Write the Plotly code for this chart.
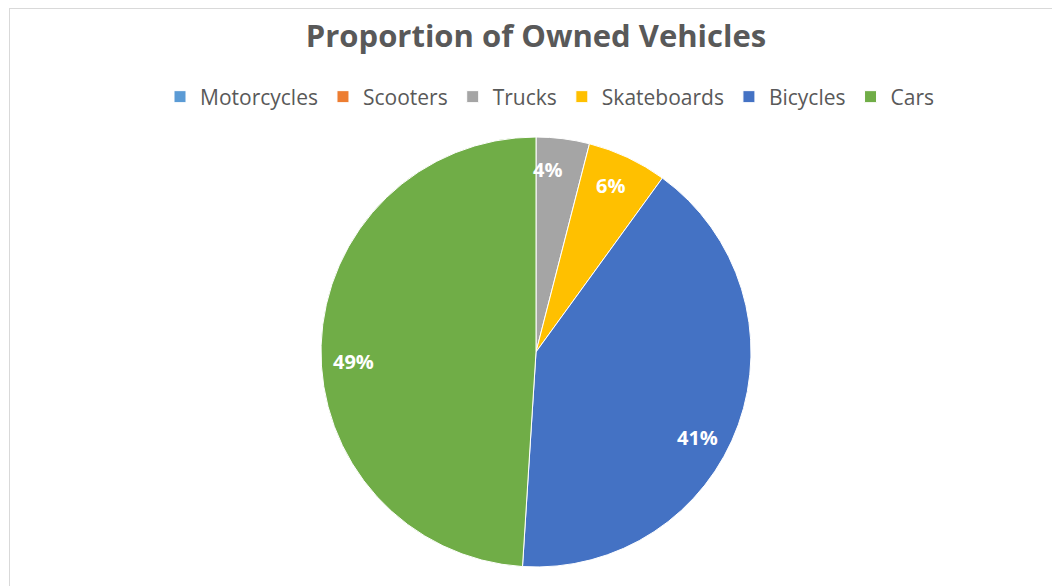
import math
import plotly.graph_objects as go

# Vehicle ownership shares (percent)
categories = ["Motorcycles", "Scooters", "Trucks", "Skateboards", "Bicycles", "Cars"]
shares = [0, 0, 4, 6, 41, 49]
colors = ["#5B9BD5", "#ED7D31", "#A5A5A5", "#FFC000", "#4472C4", "#70AD47"]

# Small angular nudges (degrees) for the in-slice percentage labels
label_nudge = [0, 0, -3.5, -1.2, 8.0, -4.8]

W, H = 1052, 586
cx, cy, R = 536, 352, 215  # pie centre and radius in pixels

fig = go.Figure(
    go.Pie(
        labels=categories,
        values=shares,
        sort=False,
        direction="clockwise",
        rotation=0,
        marker=dict(colors=colors, line=dict(color="#FFFFFF", width=1)),
        textinfo="none",
        hoverinfo="label+percent",
        domain=dict(x=[(cx - R) / W, (cx + R) / W], y=[(H - cy - R) / H, (H - cy + R) / H]),
    )
)

# Percentage labels placed inside each slice, near the rim
total = sum(shares)
cum = 0
annotations = []
for name, v, nudge in zip(categories, shares, label_nudge):
    if v > 0:
        mid = (cum + v / 2) / total * 2 * math.pi + math.radians(nudge)
        px = cx + 0.85 * R * math.sin(mid)
        py = cy - 0.85 * R * math.cos(mid)
        annotations.append(dict(
            x=px / W, y=1 - py / H, xref="paper", yref="paper",
            xanchor="center", yanchor="middle",
            text=f"<b>{round(v / total * 100)}%</b>", showarrow=False,
            font=dict(family="Open Sans", size=20, color="#FFFFFF"),
        ))
    cum += v

fig.update_layout(
    width=W, height=H,
    margin=dict(l=0, r=0, t=0, b=0),
    paper_bgcolor="#FFFFFF",
    title=dict(
        text="<b>Proportion of Owned Vehicles</b>",
        x=536 / W, xanchor="center", y=1 - 36 / H, yanchor="middle",
        font=dict(family="Open Sans", size=31, color="#595959"),
    ),
    legend=dict(
        orientation="h", x=550 / W, xanchor="center", y=1 - 97 / H, yanchor="middle",
        font=dict(family="Open Sans", size=21, color="#595959"),
        itemwidth=30, traceorder="normal",
    ),
    annotations=annotations,
    shapes=[
        dict(type="line", xref="paper", yref="paper", x0=9.5 / W, x1=9.5 / W, y0=0, y1=1 - 8 / H,
             line=dict(color="#D9D9D9", width=1)),
        dict(type="line", xref="paper", yref="paper", x0=9.5 / W, x1=1, y0=1 - 8.5 / H, y1=1 - 8.5 / H,
             line=dict(color="#D9D9D9", width=1)),
    ],
)

fig.write_html("out.html")
